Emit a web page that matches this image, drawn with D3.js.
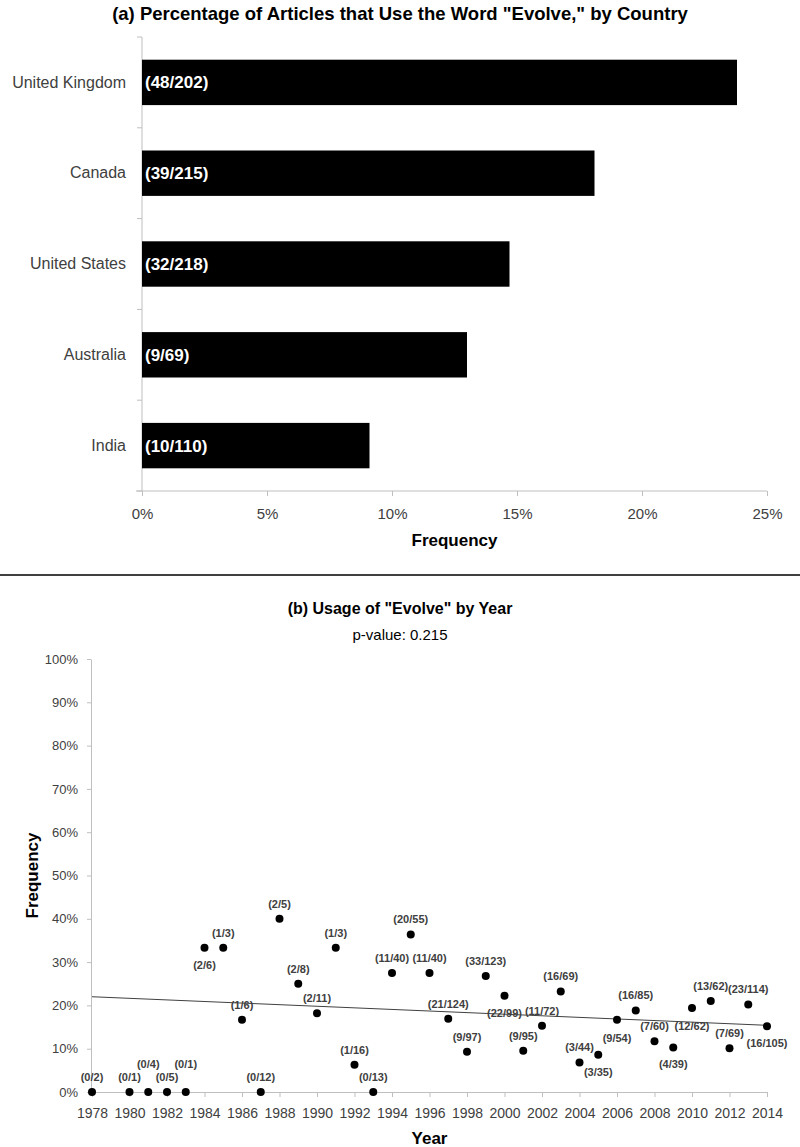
<!DOCTYPE html>
<html>
<head>
<meta charset="utf-8">
<script src="https://cdn.jsdelivr.net/npm/d3@7"></script>
<style>
  body { margin: 0; background: #fff; }
  svg { display: block; font-family: "Liberation Sans", Arial, sans-serif; }
  .axis path, .axis line { stroke: #bfbfbf; }
  .axis text { fill: #404040; }
</style>
</head>
<body>
<svg id="chart" width="800" height="1147"></svg>
<script>
// (a) by country
var countries = ["United Kingdom", "Canada", "United States", "Australia", "India"];
var countryPct = [23.8, 18.1, 14.7, 13.0, 9.1];
var countryCounts = ["(48/202)", "(39/215)", "(32/218)", "(9/69)", "(10/110)"];
var pctTicksA = [0, 5, 10, 15, 20, 25];

// (b) by year
var years = [1978, 1980, 1981, 1982, 1983, 1984, 1985, 1986, 1987, 1988, 1989, 1990,
             1991, 1992, 1993, 1994, 1995, 1996, 1997, 1998, 1999, 2000, 2001, 2002,
             2003, 2004, 2005, 2006, 2007, 2008, 2009, 2010, 2011, 2012, 2013, 2014];
var yearPct = [0, 0, 0, 0, 0, 33.3, 33.3, 16.7, 0, 40.0, 25.0, 18.2,
               33.3, 6.3, 0, 27.5, 36.4, 27.5, 16.9, 9.3, 26.8, 22.2, 9.5, 15.3,
               23.2, 6.8, 8.6, 16.7, 18.8, 11.7, 10.3, 19.4, 21.0, 10.1, 20.2, 15.2];
var yearCounts = ["(0/2)", "(0/1)", "(0/4)", "(0/5)", "(0/1)", "(2/6)", "(1/3)", "(1/6)", "(0/12)", "(2/5)", "(2/8)", "(2/11)",
                  "(1/3)", "(1/16)", "(0/13)", "(11/40)", "(20/55)", "(11/40)", "(21/124)", "(9/97)", "(33/123)", "(22/99)", "(9/95)", "(11/72)",
                  "(16/69)", "(3/44)", "(3/35)", "(9/54)", "(16/85)", "(7/60)", "(4/39)", "(12/62)", "(13/62)", "(7/69)", "(23/114)", "(16/105)"];
var pctTicksB = [0, 10, 20, 30, 40, 50, 60, 70, 80, 90, 100];
var yearTicks = [1978, 1980, 1982, 1984, 1986, 1988, 1990, 1992, 1994, 1996,
                 1998, 2000, 2002, 2004, 2006, 2008, 2010, 2012, 2014];
var trendYears = [1978, 2014];
var trendPct = [22.0, 15.4];

var svg = d3.select("#chart");

// ---------- (a) bars ----------
var xA = d3.scaleLinear().domain([0, 25]).range([142, 767]);
var yA = d3.scaleBand().domain(countries).range([37, 491]).paddingInner(0.5).paddingOuter(0.25);

svg.append("text")
    .attr("x", 400).attr("y", 20)
    .attr("text-anchor", "middle")
    .style("font-size", "18.5px").style("font-weight", "bold")
    .text('(a) Percentage of Articles that Use the Word "Evolve," by Country');

var gxA = svg.append("g")
    .attr("class", "axis")
    .attr("transform", "translate(0,491)")
    .call(d3.axisBottom(xA).tickValues(pctTicksA).tickFormat(function(d) { return d + "%"; })
        .tickSize(5).tickSizeOuter(0).tickPadding(12));
gxA.select(".domain").attr("d", "M136,0H767");
gxA.selectAll("text").style("font-size", "15px");

var gyA = svg.append("g")
    .attr("class", "axis")
    .attr("transform", "translate(142,0)")
    .call(d3.axisLeft(yA).tickSize(0).tickPadding(16));
gyA.select(".domain").attr("d", "M0,37V491");
gyA.selectAll("text").style("font-size", "16px");
// category boundary ticks
gyA.selectAll("line.bound")
    .data(d3.range(countries.length + 1))
    .enter().append("line")
    .attr("class", "bound")
    .attr("x1", -5).attr("x2", 0)
    .attr("y1", function(i) { return yA.range()[0] + i * yA.step(); })
    .attr("y2", function(i) { return yA.range()[0] + i * yA.step(); });

svg.selectAll("rect.bar")
    .data(countries)
    .enter().append("rect")
    .attr("class", "bar")
    .attr("x", xA(0))
    .attr("y", function(d) { return yA(d); })
    .attr("width", function(d, i) { return xA(countryPct[i]) - xA(0); })
    .attr("height", yA.bandwidth())
    .attr("fill", "#000");

svg.selectAll("text.barlab")
    .data(countries)
    .enter().append("text")
    .attr("class", "barlab")
    .attr("x", xA(0) + 3)
    .attr("y", function(d) { return yA(d) + yA.bandwidth() / 2; })
    .attr("dy", "0.35em")
    .attr("fill", "#fff")
    .style("font-size", "17px").style("font-weight", "bold")
    .text(function(d, i) { return countryCounts[i]; });

svg.append("text")
    .attr("x", (xA(0) + xA(25)) / 2).attr("y", 546)
    .attr("text-anchor", "middle")
    .style("font-size", "17px").style("font-weight", "bold")
    .text("Frequency");

svg.append("line")
    .attr("x1", 0).attr("x2", 800).attr("y1", 575).attr("y2", 575)
    .attr("stroke", "#404040").attr("stroke-width", 2);

// ---------- (b) scatter ----------
var xB = d3.scaleLinear().domain([1978, 2014]).range([92, 767]);
var yB = d3.scaleLinear().domain([0, 100]).range([1092, 659]);

svg.append("text")
    .attr("x", 400).attr("y", 614)
    .attr("text-anchor", "middle")
    .style("font-size", "16px").style("font-weight", "bold")
    .text('(b) Usage of "Evolve" by Year');
svg.append("text")
    .attr("x", 400).attr("y", 640)
    .attr("text-anchor", "middle")
    .style("font-size", "15px")
    .text("p-value: 0.215");

var gyB = svg.append("g")
    .attr("class", "axis")
    .attr("transform", "translate(91,0)")
    .call(d3.axisLeft(yB).tickValues(pctTicksB).tickFormat(function(d) { return d + "%"; })
        .tickSize(4).tickSizeOuter(0).tickPadding(9));
gyB.selectAll("text").style("font-size", "13px");

var gxB = svg.append("g")
    .attr("class", "axis")
    .attr("transform", "translate(0,1092)")
    .call(d3.axisBottom(xB).tickValues(yearTicks).tickFormat(d3.format("d"))
        .tickSize(5).tickSizeOuter(0).tickPadding(11));
gxB.selectAll("text").style("font-size", "14px");

svg.append("line")
    .attr("x1", xB(trendYears[0])).attr("y1", yB(trendPct[0]))
    .attr("x2", xB(trendYears[1])).attr("y2", yB(trendPct[1]))
    .attr("stroke", "#404040").attr("stroke-width", 1);

svg.selectAll("circle.pt")
    .data(years)
    .enter().append("circle")
    .attr("class", "pt")
    .attr("cx", function(d) { return xB(d); })
    .attr("cy", function(d, i) { return yB(yearPct[i]); })
    .attr("r", 4)
    .attr("fill", "#000");

// where a label sits relative to its dot
var labelShift = { 1981: -28, 1983: -28, 1984: 17, 2000: 17, 2005: 17, 2006: 18, 2009: 17, 2010: 18, 2014: 17 };
svg.selectAll("text.ptlab")
    .data(years)
    .enter().append("text")
    .attr("class", "ptlab")
    .attr("x", function(d) { return xB(d); })
    .attr("y", function(d, i) { return yB(yearPct[i]) + (labelShift[d] || -15); })
    .attr("dy", "0.35em")
    .attr("text-anchor", "middle")
    .attr("fill", "#404040")
    .style("font-size", "11px").style("font-weight", "bold")
    .text(function(d, i) { return yearCounts[i]; });

svg.append("text")
    .attr("x", (xB(1978) + xB(2014)) / 2).attr("y", 1144)
    .attr("text-anchor", "middle")
    .style("font-size", "17px").style("font-weight", "bold")
    .text("Year");

svg.append("text")
    .attr("transform", "translate(38," + (yB(50)) + ") rotate(-90)")
    .attr("text-anchor", "middle")
    .style("font-size", "17px").style("font-weight", "bold")
    .text("Frequency");
</script>
</body>
</html>
